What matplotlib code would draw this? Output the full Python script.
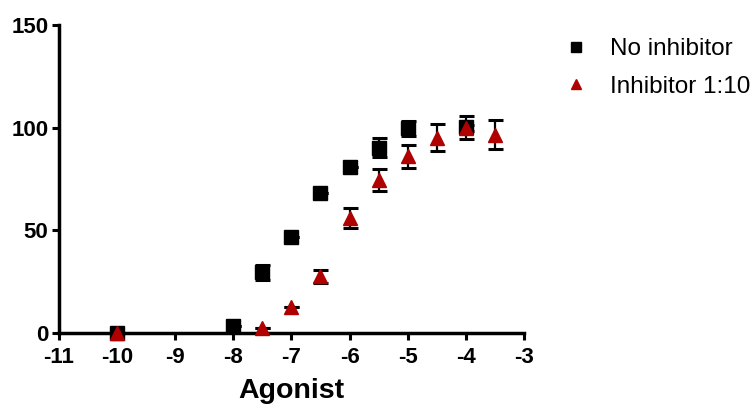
import matplotlib.pyplot as plt

plt.rcParams["font.family"] = ["Liberation Sans", "DejaVu Sans"]

# log agonist concentration vs response
x_none = [-10, -8, -7.5, -7, -6.5, -6, -5.5, -5, -4]
y_none = [0, 3.5, 29.5, 46.5, 68, 80.7, 90.3, 99.7, 100.2]
err_none = [0, 0, 3.8, 0, 0, 0, 4.5, 3.8, 5.5]

x_inh = [-10, -7.5, -7, -6.5, -6, -5.5, -5, -4.5, -4, -3.5]
y_inh = [0, 2.5, 12.8, 27.5, 56, 74.5, 86, 95.2, 100, 96.5]
err_inh = [0, 0, 0, 3.3, 5, 5.3, 5.5, 6.5, 1.5, 7.1]

x_ticks = [-11, -10, -9, -8, -7, -6, -5, -4, -3]
y_ticks = [0, 50, 100, 150]

RED = "#B00000"

fig = plt.figure(figsize=(7.56, 4.05), dpi=100)
ax = fig.add_axes([0.078, 0.178, 0.615, 0.76])

ax.errorbar(x_none, y_none, yerr=err_none, fmt="s", color="black", ms=9.4,
            ecolor="black", elinewidth=1.6, capsize=5.4, capthick=2.2,
            label="No inhibitor", clip_on=False, zorder=5)
ax.errorbar(x_inh, y_inh, yerr=err_inh, fmt="^", color=RED, ms=10,
            ecolor="black", elinewidth=1.6, capsize=5.4, capthick=2.2,
            label="Inhibitor 1:10", clip_on=False, zorder=6)

ax.set_xlim(-11, -3)
ax.set_ylim(0, 150)
ax.set_xticks(x_ticks)
ax.set_yticks(y_ticks)
ax.set_xticklabels([str(t) for t in x_ticks])
ax.set_xlabel("Agonist", fontsize=20.5, fontweight="bold", labelpad=7)

for side in ["top", "right"]:
    ax.spines[side].set_visible(False)
for side in ["left", "bottom"]:
    ax.spines[side].set_linewidth(2.5)
ax.tick_params(axis="both", direction="out", length=5, width=2.2,
               labelsize=16, pad=2.5)
ax.tick_params(axis="x", pad=5)
for lab in ax.get_xticklabels() + ax.get_yticklabels():
    lab.set_fontweight("bold")

handles, labels = ax.get_legend_handles_labels()
handles = [h[0] for h in handles]
fig.legend(handles, labels, loc="upper left", bbox_to_anchor=(0.72, 0.96),
           frameon=False, fontsize=17.5, handlelength=0.8, handletextpad=1.0,
           labelspacing=0.65, markerscale=0.75)

fig.savefig("out.png", dpi=100)
